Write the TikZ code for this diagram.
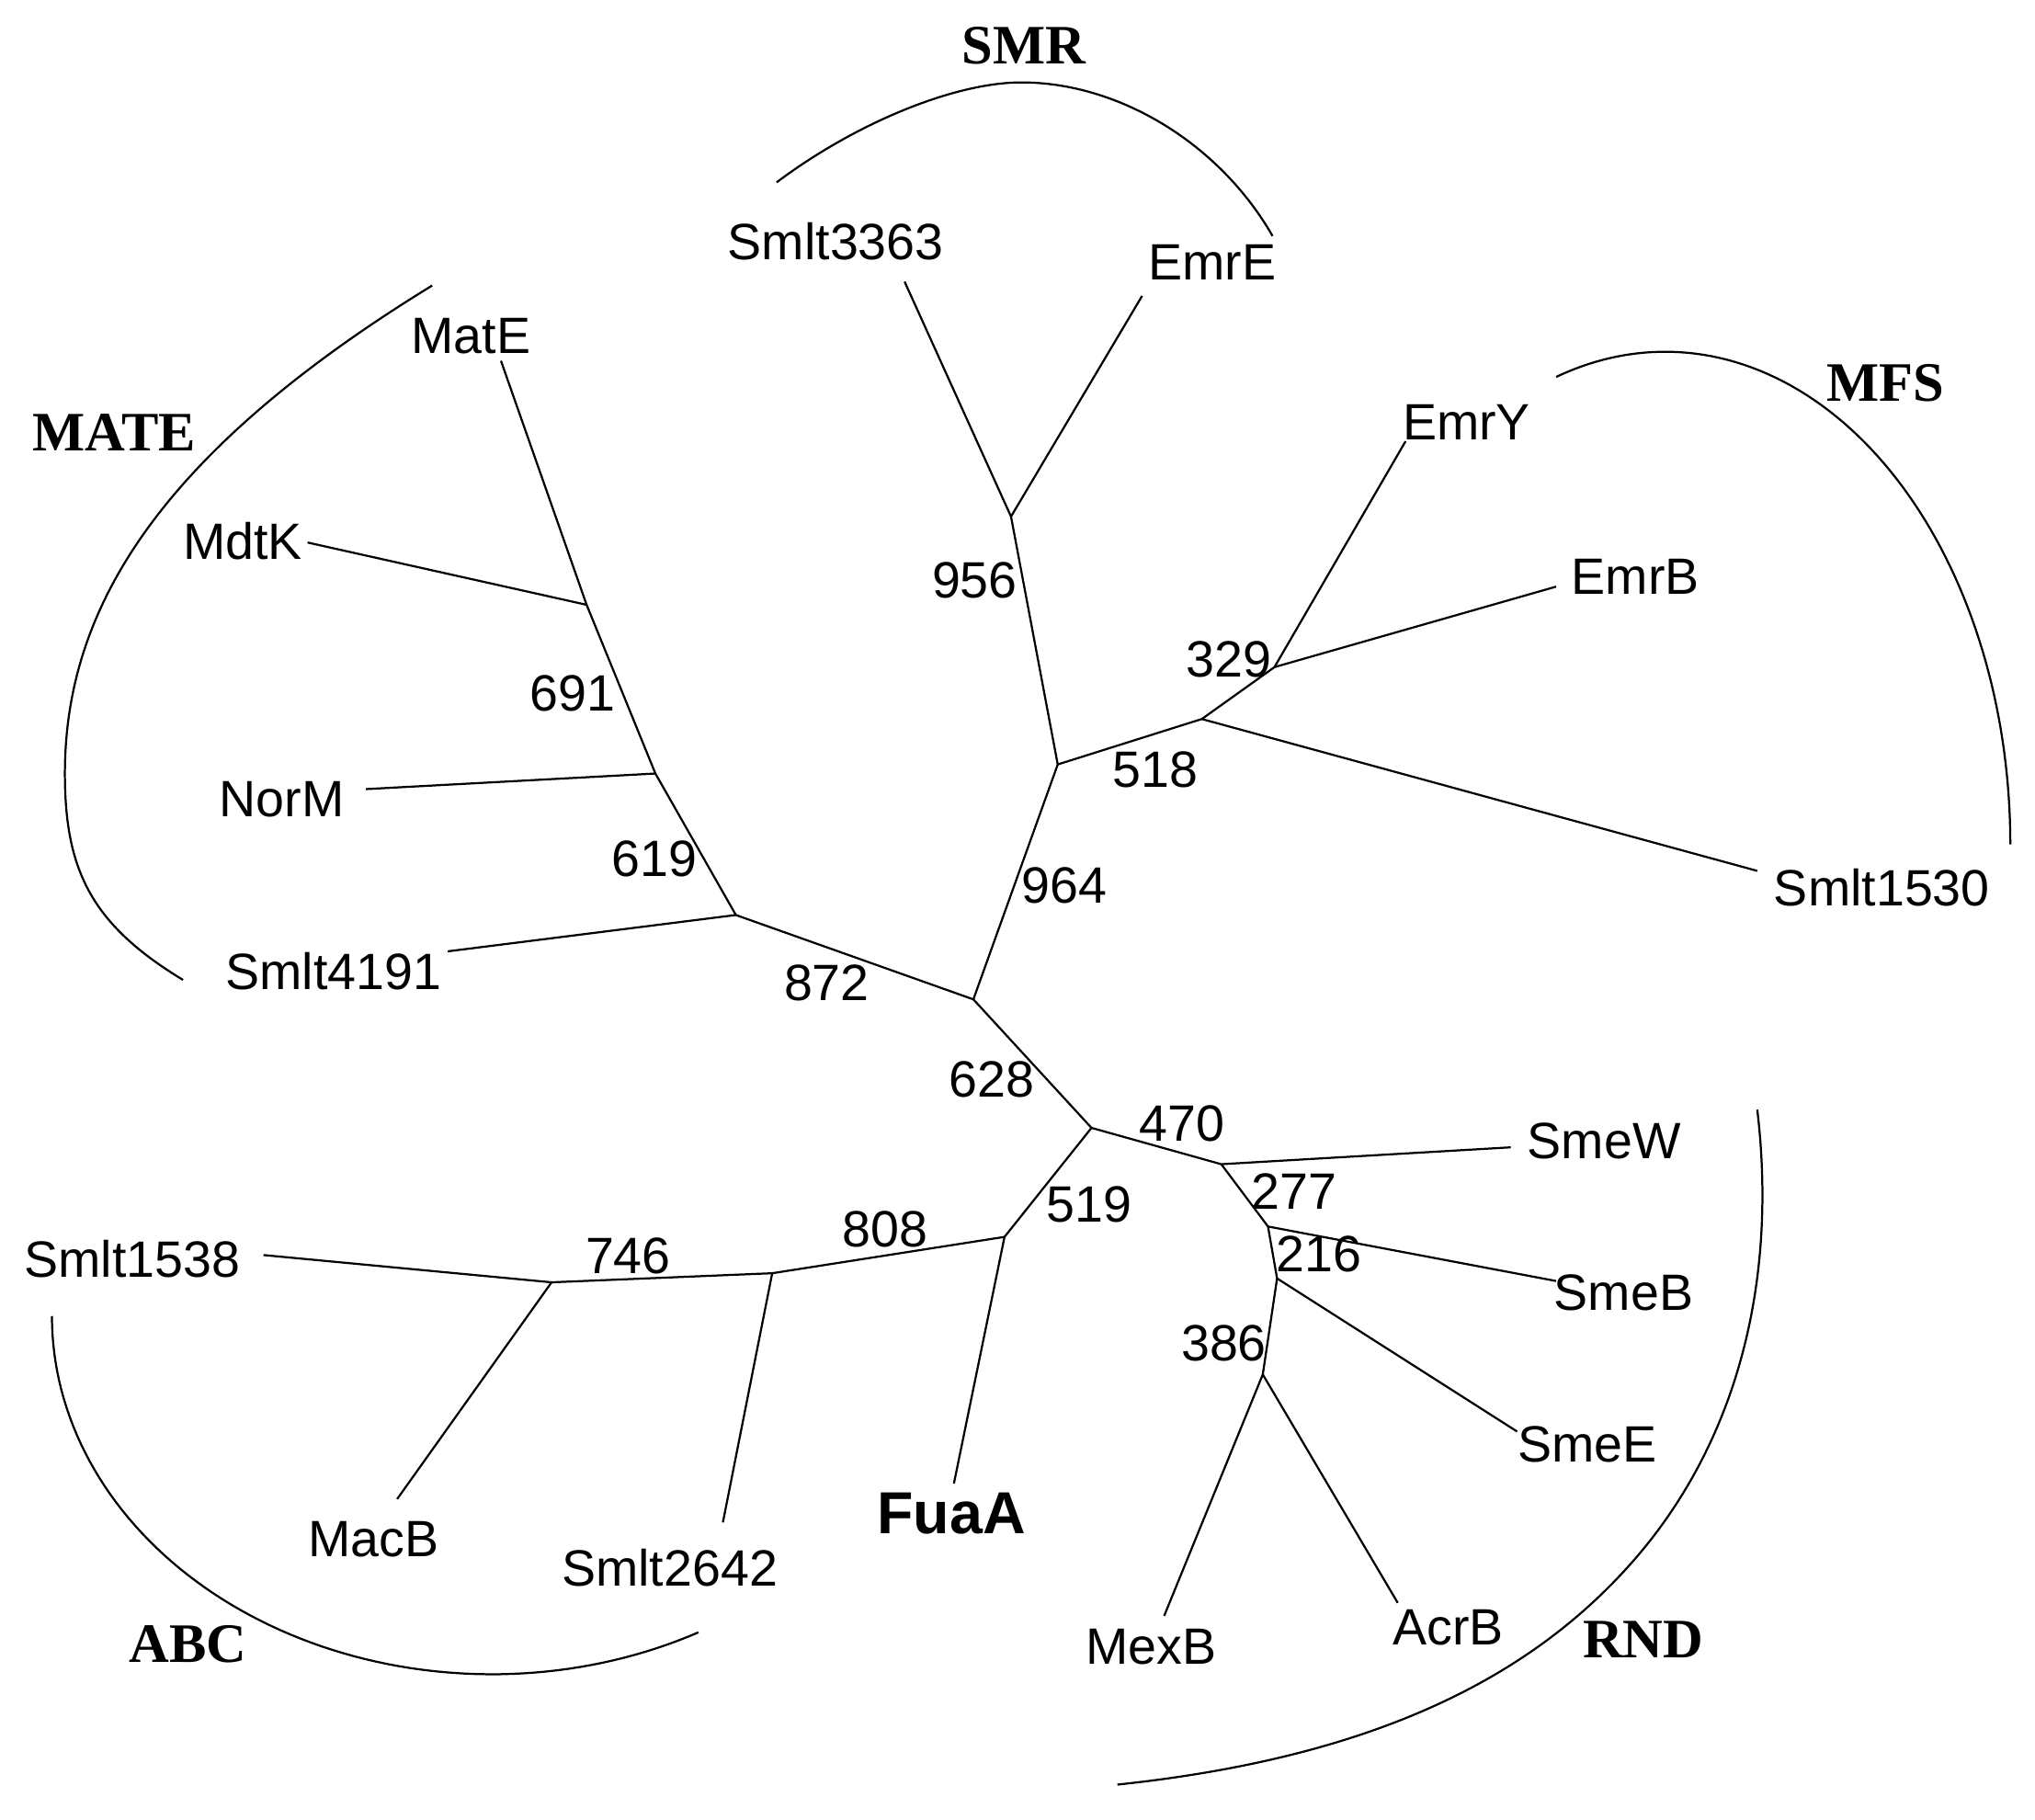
\documentclass[tikz,border=0pt]{standalone}
\usepackage{fontspec}
\setmainfont{Liberation Serif}
\setsansfont{Liberation Sans}
\begin{document}
\begin{tikzpicture}[x=0.1mm,y=-0.1mm,
  br/.style={line width=0.45pt},
  arcline/.style={line width=0.45pt},
  leaf/.style={font=\sffamily\fontsize{11.2}{13}\selectfont, inner sep=0pt},
  num/.style={font=\sffamily\fontsize{11.2}{13}\selectfont, inner sep=0pt},
  fam/.style={font=\rmfamily\bfseries\fontsize{12.2}{14}\selectfont, inner sep=0pt},
  key/.style={font=\sffamily\bfseries\fontsize{13}{15}\selectfont, inner sep=0pt}]
\fill[white] (0,0) rectangle (1568,1402);
\useasboundingbox (0,0) rectangle (1568,1402);

% internal nodes
\coordinate (A) at (750,770);
\coordinate (B) at (841,869);
\coordinate (C) at (815,589);
\coordinate (D) at (779,398);
\coordinate (E) at (926,554);
\coordinate (F) at (982,514);
\coordinate (G) at (941,897);
\coordinate (H) at (977,945);
\coordinate (I) at (984,985);
\coordinate (J) at (973,1059);
\coordinate (K) at (774,953);
\coordinate (L) at (595,981);
\coordinate (M) at (425,988);
\coordinate (X1) at (452,466);
\coordinate (X2) at (505,596);
\coordinate (X3) at (567,705);

% leaf tips
\coordinate (tMatE) at (386,278);
\coordinate (tMdtK) at (237,418);
\coordinate (tNorM) at (282,608);
\coordinate (tSmlt4191) at (345,733);
\coordinate (tSmlt3363) at (697,217);
\coordinate (tEmrE) at (880,228);
\coordinate (tEmrY) at (1083,340);
\coordinate (tEmrB) at (1199,452);
\coordinate (tSmlt1530) at (1354,671);
\coordinate (tSmeW) at (1164,884);
\coordinate (tSmeB) at (1199,987);
\coordinate (tSmeE) at (1169,1103);
\coordinate (tAcrB) at (1077,1235);
\coordinate (tMexB) at (897,1245);
\coordinate (tFuaA) at (735,1143);
\coordinate (tSmlt2642) at (557,1173);
\coordinate (tMacB) at (306,1155);
\coordinate (tSmlt1538) at (203,967);

% branches
\draw[br] (X1) -- (tMatE);
\draw[br] (X1) -- (tMdtK);
\draw[br] (X1) -- (X2);
\draw[br] (X2) -- (tNorM);
\draw[br] (X2) -- (X3);
\draw[br] (X3) -- (tSmlt4191);
\draw[br] (X3) -- (A);
\draw[br] (A) -- (C);
\draw[br] (A) -- (B);
\draw[br] (C) -- (D);
\draw[br] (D) -- (tSmlt3363);
\draw[br] (D) -- (tEmrE);
\draw[br] (C) -- (E);
\draw[br] (E) -- (F);
\draw[br] (F) -- (tEmrY);
\draw[br] (F) -- (tEmrB);
\draw[br] (E) -- (tSmlt1530);
\draw[br] (B) -- (G);
\draw[br] (G) -- (tSmeW);
\draw[br] (G) -- (H);
\draw[br] (H) -- (tSmeB);
\draw[br] (H) -- (I);
\draw[br] (I) -- (tSmeE);
\draw[br] (I) -- (J);
\draw[br] (J) -- (tMexB);
\draw[br] (J) -- (tAcrB);
\draw[br] (B) -- (K);
\draw[br] (K) -- (tFuaA);
\draw[br] (K) -- (L);
\draw[br] (L) -- (tSmlt2642);
\draw[br] (L) -- (M);
\draw[br] (M) -- (tSmlt1538);
\draw[br] (M) -- (tMacB);

% leaf labels
\node[leaf] (nSmlt3363) at (644,186) {Smlt3363};
\node[leaf] (nEmrE) at (934,202) {EmrE};
\node[leaf] (nMatE) at (363,259) {MatE};
\node[leaf] (nEmrY) at (1130,325) {EmrY};
\node[leaf] (nMdtK) at (187,417) {MdtK};
\node[leaf] (nEmrB) at (1260,444) {EmrB};
\node[leaf] (nNorM) at (217,616) {NorM};
\node[leaf] (nSmlt1530) at (1450,684) {Smlt1530};
\node[leaf] (nSmlt4191) at (257,748) {Smlt4191};
\node[leaf] (nSmeW) at (1236,879) {SmeW};
\node[leaf] (nSmlt1538) at (102,970) {Smlt1538};
\node[leaf] (nSmeB) at (1251,996) {SmeB};
\node[leaf] (nSmeE) at (1223,1113) {SmeE};
\node[key] (nFuaA) at (733,1166) {FuaA};
\node[leaf] (nMacB) at (288,1186) {MacB};
\node[leaf] (nSmlt2642) at (516,1208) {Smlt2642};
\node[leaf] (nMexB) at (887,1269) {MexB};
\node[leaf] (nAcrB) at (1116,1254) {AcrB};

% bootstrap values
\node[num] (v956) at (751,447) {956};
\node[num] (v329) at (947,508) {329};
\node[num] (v691) at (441,534) {691};
\node[num] (v518) at (890,593) {518};
\node[num] (v619) at (504,662) {619};
\node[num] (v964) at (820,682) {964};
\node[num] (v872) at (637,757) {872};
\node[num] (v628) at (764,832) {628};
\node[num] (v470) at (911,866) {470};
\node[num] (v277) at (997,918) {277};
\node[num] (v519) at (839,928) {519};
\node[num] (v808) at (682,947) {808};
\node[num] (v746) at (484,968) {746};
\node[num] (v216) at (1016,966) {216};
\node[num] (v386) at (943,1035) {386};

% family labels
\node[fam] (fSMR) at (789,35) {SMR};
\node[fam] (fMATE) at (88,333) {MATE};
\node[fam] (fMFS) at (1453,295) {MFS};
\node[fam] (fABC) at (145,1267) {ABC};
\node[fam] (fRND) at (1266,1263) {RND};

% family arcs
% SMR
\draw[arcline] (598.4,140.5) .. controls (660,94.3) and (736,63.5) .. (787,63.5)
  .. controls (862.4,63.5) and (939.8,110.8) .. (980.5,181.8);
% MATE
\draw[arcline] (333,220) .. controls (121,350) and (50,470) .. (50,596)
  .. controls (50,670) and (70,712) .. (141,755);
% MFS
\draw[arcline] plot[domain=251.6:360, samples=80] ({1283+266*cos(\x)},{650.6+379.6*sin(\x)});
% ABC
\draw[arcline] plot[domain=62:180, samples=80] ({379+339*cos(\x)},{1014+276*sin(\x)});
% RND
\draw[arcline] (1354,855) .. controls (1370.4,993) and (1336,1120) .. (1250,1212)
  .. controls (1170,1298) and (1050,1355) .. (861,1375);
\end{tikzpicture}
\end{document}
